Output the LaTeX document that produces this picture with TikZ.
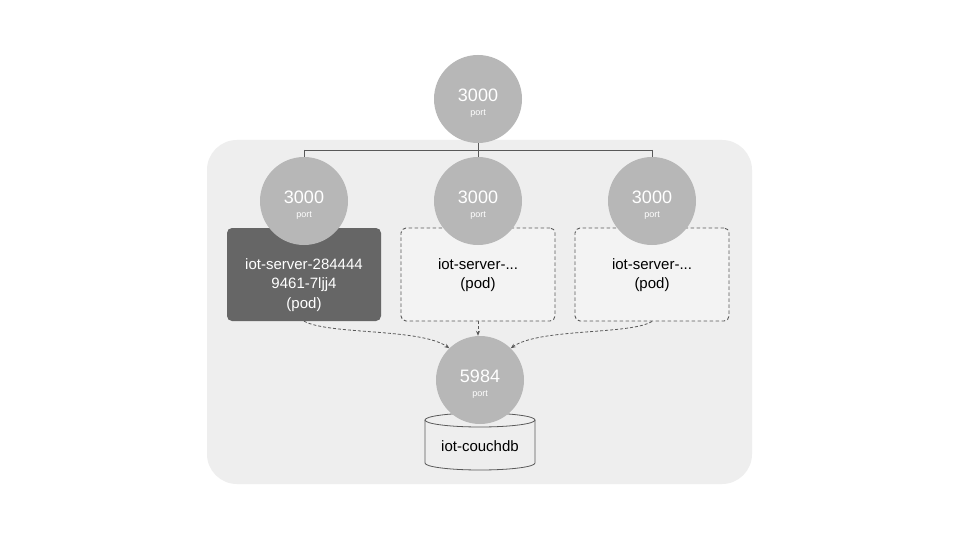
\documentclass[tikz,border=0pt]{standalone}
\usepackage{fontspec}
\setmainfont{Liberation Sans}
\usetikzlibrary{shapes.geometric,arrows.meta}
\definecolor{bgc}{HTML}{EEEEEE}
\definecolor{portc}{HTML}{B7B7B7}
\definecolor{podc}{HTML}{666666}
\definecolor{lightpod}{HTML}{F3F3F3}
\definecolor{linec}{HTML}{595959}
\tikzset{
  portnode/.style={circle, fill=portc, minimum size=88pt, inner sep=0pt},
  porttxt/.style={align=center, text=white, inner sep=0pt},
  podbox/.style={rounded corners=5pt, minimum width=154pt, minimum height=93pt, inner sep=0pt},
  podtxt/.style={align=center, inner sep=0pt, font=\fontsize{15}{19.5}\selectfont},
  darkpod/.style={podbox, fill=podc},
  ghostpod/.style={podbox, fill=lightpod, draw=linec, line width=0.9pt, dash pattern=on 3.5pt off 2.5pt},
  conn/.style={draw=linec, line width=0.8pt},
  flow/.style={draw=linec, line width=0.8pt, dash pattern=on 3pt off 2pt, -{Stealth[length=5pt,width=4pt]}},
}
\newcommand{\porttext}[1]{{\fontsize{18}{18}\selectfont #1}\\[1.5pt]{\fontsize{9}{9}\selectfont port}}
\begin{document}
\begin{tikzpicture}[x=1pt,y=-1pt]
\useasboundingbox (0,0) rectangle (960,540);
\fill[white] (0,0) rectangle (960,540);
\node[fill=bgc, rounded corners=30pt, minimum width=545pt, minimum height=344pt, inner sep=0pt] (ns) at (479.5,312) {};
% cylinder
\coordinate (dbtop) at (480,420);
\draw[draw=linec, fill=bgc, line width=0.8pt] (425,420) -- (425,463) arc[start angle=180, end angle=0, x radius=55, y radius=7] -- (535,420);
\draw[draw=linec, fill=bgc, line width=0.8pt] (dbtop) ellipse[x radius=55, y radius=7];
\node[font=\fontsize{15}{15}\selectfont, inner sep=0pt] (dblabel) at (480,446) {iot-couchdb};
% pods
\node[darkpod] (pod1) at (304,274.5) {};
\node[podtxt, text=white] (pod1t) at (304,285) {iot-server-284444\\9461-7ljj4\\(pod)};
\node[ghostpod] (pod2) at (478,274.5) {};
\node[podtxt] (pod2t) at (478,275) {iot-server-...\\(pod)};
\node[ghostpod] (pod3) at (652,274.5) {};
\node[podtxt] (pod3t) at (652,275) {iot-server-...\\(pod)};
% ports
\node[portnode] (svc) at (478,99) {};
\node[portnode] (p1) at (304,201) {};
\node[portnode] (p2) at (478,201) {};
\node[portnode] (p3) at (652,201) {};
\node[portnode] (db5984) at (480,380) {};
\node[porttxt] (svct) at (478,103) {\porttext{3000}};
\node[porttxt] (p1t) at (304,205) {\porttext{3000}};
\node[porttxt] (p2t) at (478,205) {\porttext{3000}};
\node[porttxt] (p3t) at (652,205) {\porttext{3000}};
\node[porttxt] (dbt) at (480,384) {\porttext{5984}};
\coordinate (j) at (478,150);
\coordinate (jl) at (304,150);
\coordinate (jr) at (652,150);
\draw[conn] (svc.south) -- (j);
\draw[conn] (jl) -- (jr);
\draw[conn] (jl) -- (p1.north);
\draw[conn] (j) -- (p2.north);
\draw[conn] (jr) -- (p3.north);
% flows
\draw[flow] (pod1.south) .. controls (330,335) and (420,328) .. (db5984.134);
\draw[flow] (pod2.south) -- (db5984.north -| pod2.south);
\draw[flow] (pod3.south) .. controls (630,335) and (540,328) .. (db5984.46);
\end{tikzpicture}
\end{document}
